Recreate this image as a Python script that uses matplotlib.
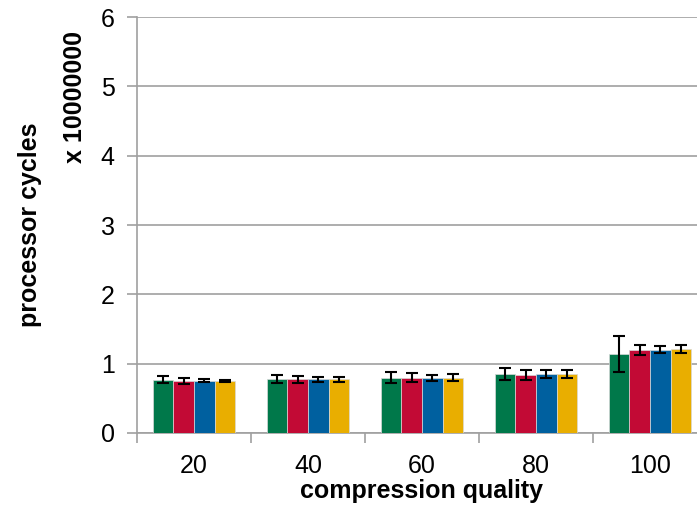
import numpy as np
import matplotlib
matplotlib.use('Agg')
import matplotlib.pyplot as plt

plt.rcParams['font.family'] = ['Liberation Sans', 'DejaVu Sans']

#%% data (x 10000000 processor cycles)
qualities = ['20', '40', '60', '80', '100']
green = [0.765, 0.78, 0.80, 0.845, 1.14]
red = [0.75, 0.775, 0.795, 0.835, 1.20]
blue = [0.755, 0.775, 0.80, 0.845, 1.20]
yellow = [0.75, 0.775, 0.80, 0.85, 1.21]
green_err = [0.05, 0.062, 0.08, 0.087, 0.255]
red_err = [0.04, 0.05, 0.065, 0.077, 0.07]
blue_err = [0.025, 0.036, 0.043, 0.058, 0.053]
yellow_err = [0.02, 0.034, 0.048, 0.063, 0.055]

series = [(green, green_err, '#00784A'),
          (red, red_err, '#C20A35'),
          (blue, blue_err, '#00609F'),
          (yellow, yellow_err, '#E9AE00')]

#%% plot
fig = plt.figure(figsize=(6.97, 5.16), dpi=100)
ax = fig.add_axes([137/697, 83/516, 570/697, 416/516])

x = np.arange(len(qualities))
w = 0.182
for i, (vals, errs, col) in enumerate(series):
    ax.bar(x + (i - 1.5)*w, vals, w, color=col, edgecolor='#d8d8d8', lw=0.5,
           yerr=errs, capsize=4, error_kw=dict(ecolor='k', elinewidth=1.5, capthick=1.5),
           zorder=3)

gray = '#A0A0A0'
ax.set_ylim(0, 6)
ax.set_xlim(-0.5, len(qualities) - 0.5)
ax.set_yticks(range(7))
ax.yaxis.grid(True, color=gray, lw=1.2, zorder=0)
ax.set_xticks(x)
ax.set_xticklabels(qualities)
ax.set_xticks(np.arange(-0.5, len(qualities)), minor=True)
ax.tick_params(axis='x', which='major', length=0, pad=15, labelsize=18)
ax.tick_params(axis='x', which='minor', length=7, color=gray, width=1.2)
ax.tick_params(axis='y', length=7, color=gray, width=1.2, labelsize=18, pad=9)
for s in ['top', 'right']:
    ax.spines[s].set_visible(False)
for s in ['left', 'bottom']:
    ax.spines[s].set_color(gray)
    ax.spines[s].set_linewidth(1.2)

ax.set_xlabel('compression quality', fontsize=18, fontweight='bold', labelpad=1)
fig.text(30/697, 1 - 225/516, 'processor cycles', rotation=90, fontsize=18,
         fontweight='bold', ha='center', va='center')
fig.text(75/697, 1 - 97/516, 'x 10000000', rotation=90, fontsize=18,
         fontweight='bold', ha='center', va='center')

fig.savefig('out.png', dpi=100)
